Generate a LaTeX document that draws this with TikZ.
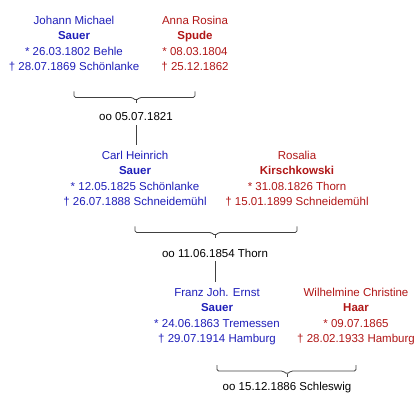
\documentclass[tikz,border=0pt]{standalone}
\usepackage{fontspec}
\setmainfont{Liberation Sans}
\usetikzlibrary{calc}
\definecolor{maleblue}{RGB}{30,30,185}
\definecolor{femalered}{RGB}{176,22,22}
\tikzset{
  person/.style={align=center, inner sep=0pt, anchor=north, font=\fontsize{11.5}{15.3}\selectfont},
  male/.style={person, text=maleblue},
  female/.style={person, text=femalered},
  wedding/.style={inner sep=4pt, font=\fontsize{11.5}{13}\selectfont},
  bond/.style={draw=black!75, line width=0.8pt},
}

\begin{document}
\begin{tikzpicture}[x=1pt, y=-1pt]
        \useasboundingbox (0,0) rectangle (417,394);
        % generation 1
        \node[male] (johann) at (74,16) {Johann Michael\\\textbf{Sauer}\\* 26.03.1802 Behle\\† 28.07.1869 Schönlanke};
        \node[female] (anna) at (195,16) {Anna Rosina\\\textbf{Spude}\\* 08.03.1804\\† 25.12.1862};
        \node[wedding] (m1) at (136,117) {oo 05.07.1821};
        % generation 2
        \node[male] (carl) at (135,151) {Carl Heinrich\\\textbf{Sauer}\\* 12.05.1825 Schönlanke\\† 26.07.1888 Schneidemühl};
        \node[female] (rosalia) at (297,151) {Rosalia\\\textbf{Kirschkowski}\\* 31.08.1826 Thorn\\† 15.01.1899 Schneidemühl};
        \node[wedding] (m2) at (215,253) {oo 11.06.1854 Thorn};
        % generation 3
        \node[male] (franz) at (217,288) {Franz Joh. Ernst\\\textbf{Sauer}\\* 24.06.1863 Tremessen\\† 29.07.1914 Hamburg};
        \node[female] (wilhelmine) at (356,288) {Wilhelmine Christine\\\textbf{Haar}\\* 09.07.1865\\† 28.02.1933 Hamburg};
        \node[wedding] (m3) at (287,388) {oo 15.12.1886 Schleswig};

        \foreach \he/\she/\m in {johann/anna/m1, carl/rosalia/m2, franz/wilhelmine/m3}{
          \coordinate (l) at ([yshift=-20pt]\he.south);
          \coordinate (r) at (l -| \she.south);
          \draw[bond, rounded corners=1.5pt] (l) |- ($(l -| \m)+(-4,6)$) -- ($(l -| \m)+(0,9)$) -- ($(l -| \m)+(4,6)$) -| (r);
          \draw[bond] ($(l -| \m)+(0,9)$) -- ++(0,3);
        }
        \draw[bond] (m1.south) -- ([yshift=6pt]m1.south |- carl.north);
        \draw[bond] (m2.south) -- ([yshift=6pt]m2.south |- franz.north);
\end{tikzpicture}
\end{document}
